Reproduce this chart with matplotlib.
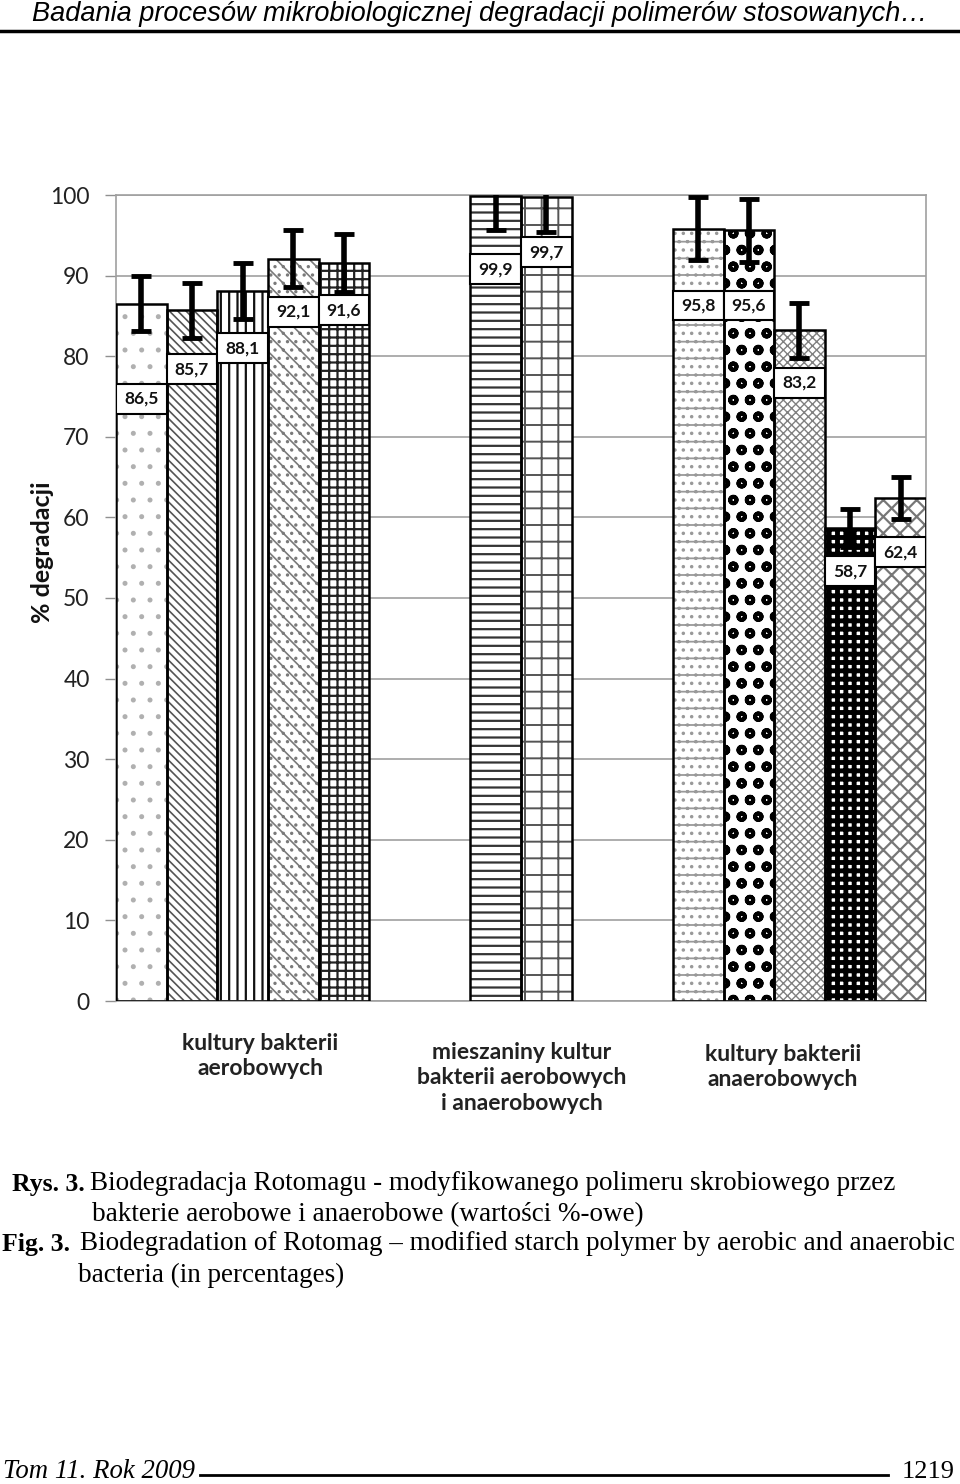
import matplotlib
matplotlib.use("Agg")
import matplotlib.pyplot as plt
from matplotlib.patches import Rectangle
import numpy as np

# values
values = [86.5, 85.7, 88.1, 92.1, 91.6, 99.9, 99.7, 95.8, 95.6, 83.2, 58.7, 62.4]
errors = [3.4, 3.4, 3.5, 3.5, 3.6, 4.2, 4.3, 3.9, 3.9, 3.45, 2.4, 2.65]
value_labels = ["86,5", "85,7", "88,1", "92,1", "91,6", "99,9", "99,7",
                "95,8", "95,6", "83,2", "58,7", "62,4"]
group_sizes = [5, 2, 5]
group_labels = ["kultury bakterii\naerobowych",
                "mieszaniny kultur\nbakterii aerobowych\ni anaerobowych",
                "kultury bakterii\nanaerobowych"]
yticks = [0, 10, 20, 30, 40, 50, 60, 70, 80, 90, 100]

# styling: how far below the bar top each value box sits
label_drop = [11.8, 7.3, 7.1, 6.6, 5.9, 9.1, 6.8, 9.5, 9.3, 6.5, 5.4, 6.7]
hatches = ['.', '\\\\\\\\', '||', '\\\\..', '++', '--', '+', '-..', 'o', 'xxxx', '++', 'xx']
hatch_cols = ['#b0b0b0', '#555555', '#111111', '#7a7a7a', '#222222', '#333333',
              '#555555', '#999999', '#000000', '#808080', '#000000', '#777777']
hatch_lws = [1.2, 1.2, 1.6, 1.2, 1.6, 1.6, 1.4, 1.3, 2.8, 1.0, 3.5, 1.6]

W, H = 960, 1484
def fx(px):
    return px / W
def fy(py):
    return 1 - py / H

fig = plt.figure(figsize=(9.6, 14.84), dpi=100)
ax = fig.add_axes([fx(116), fy(1001), fx(926) - fx(116), fy(195) - fy(1001)])

# bar positions: groups separated by two empty slots
pos = []
start = 0
for n in group_sizes:
    pos += list(range(start, start + n))
    start += n + 2
pos = np.array(pos)

for i in range(len(values)):
    b = ax.bar(pos[i], values[i], width=1.0, color='white', edgecolor=hatch_cols[i],
               hatch=hatches[i], linewidth=0, zorder=2)
    for p in b:
        if hasattr(p, 'set_hatch_linewidth'):
            p.set_hatch_linewidth(hatch_lws[i])
ax.bar(pos, values, width=1.0, fill=False, edgecolor='black', linewidth=1.8, zorder=3)

# value boxes
for i in range(len(values)):
    yc = values[i] - label_drop[i]
    ax.add_patch(Rectangle((pos[i] - 0.5, yc - 1.85), 1.0, 3.7, facecolor='white',
                           edgecolor='black', linewidth=1.5, zorder=4))
    ax.text(pos[i], yc, value_labels[i], ha='center', va='center', fontsize=12.5,
            fontweight='bold', family='Lato', color='#111111', zorder=5)

ax.errorbar(pos, values, yerr=errors, fmt='none', ecolor='black', elinewidth=4,
            capsize=7, capthick=3.5, zorder=6)

ax.set_xlim(-0.5, pos[-1] + 0.5)
ax.set_ylim(0, 100)
ax.set_yticks(yticks)
ax.set_yticklabels([str(t) for t in yticks], family='Lato', fontsize=16.5, color='#222222')
ax.set_xticks([])
ax.yaxis.grid(True, color='#a0a0a0', linewidth=1.2, zorder=0)
ax.set_axisbelow(True)
ax.tick_params(axis='y', length=8, width=1.0, color='#909090', pad=11)
for s in ax.spines.values():
    s.set_color('#a0a0a0')
    s.set_linewidth(1.2)

fig.text(fx(42), fy(552), "% degradacji", rotation=90, ha='center', va='center',
         family='Lato', fontweight='bold', fontsize=18, color='#111111')

# category labels
cat_x = [260, 522, 783]
cat_y = [1056, 1078, 1067]
for k in range(3):
    fig.text(fx(cat_x[k]), fy(cat_y[k]), group_labels[k], ha='center', va='center',
             family='Lato', fontweight='bold', fontsize=16.5, color='#222222',
             linespacing=1.25)

# page header
fig.text(fx(480), fy(14), "Badania procesów mikrobiologicznej degradacji polimerów stosowanych\u2026",
         ha='center', va='center', style='italic', family='Liberation Sans', fontsize=19.5)
fig.add_artist(plt.Line2D([0, 1], [fy(31), fy(31)], color='black', linewidth=2.5))

# caption
serif = 'Liberation Serif'
cs = 19.5
fig.text(fx(12), fy(1184), "Rys. 3.", ha='left', va='center', family=serif,
         fontweight='bold', fontsize=18.5)
fig.text(fx(90), fy(1184), "Biodegradacja Rotomagu - modyfikowanego polimeru skrobiowego przez",
         ha='left', va='center', family=serif, fontsize=cs)
fig.text(fx(92), fy(1215), "bakterie aerobowe i anaerobowe (wartości %-owe)",
         ha='left', va='center', family=serif, fontsize=cs)
fig.text(fx(2), fy(1244), "Fig. 3.", ha='left', va='center', family=serif,
         fontweight='bold', fontsize=18.5)
fig.text(fx(80), fy(1244), "Biodegradation of Rotomag \u2013 modified starch polymer by aerobic and anaerobic",
         ha='left', va='center', family=serif, fontsize=cs)
fig.text(fx(78), fy(1275), "bacteria (in percentages)",
         ha='left', va='center', family=serif, fontsize=cs)

# footer
fig.text(fx(3), fy(1472), "Tom 11. Rok 2009", ha='left', va='center', family=serif,
         style='italic', fontsize=19.3)
fig.add_artist(plt.Line2D([fx(200), fx(888)], [fy(1475), fy(1475)], color='black', linewidth=2))
fig.text(fx(955), fy(1472), "1219", ha='right', va='center', family=serif, fontsize=19)

fig.savefig("out.png", dpi=100)
